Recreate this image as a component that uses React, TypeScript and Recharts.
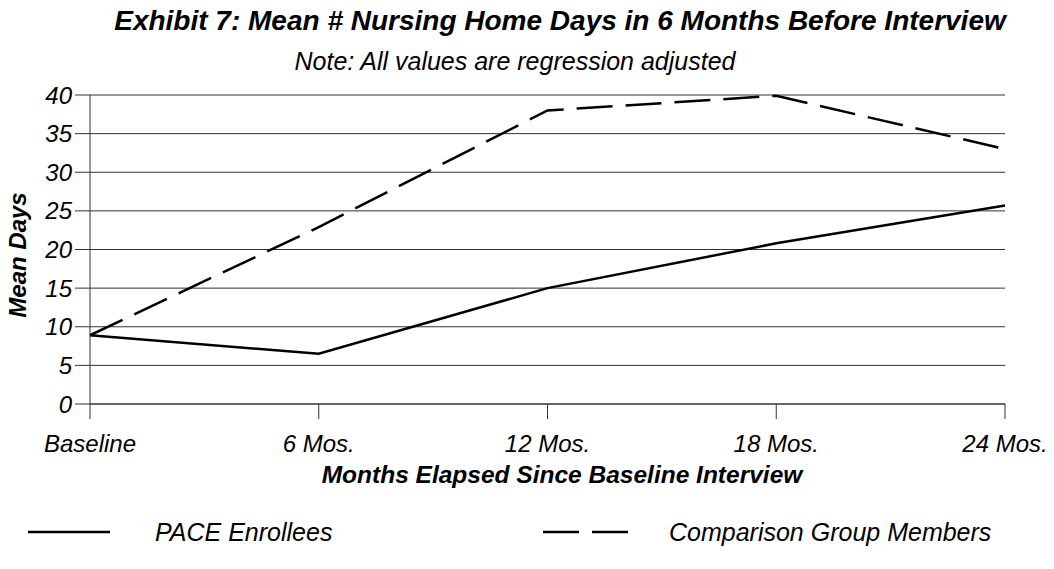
import { LineChart, Line, XAxis, YAxis, CartesianGrid } from 'recharts'

const categories = ['Baseline', '6 Mos.', '12 Mos.', '18 Mos.', '24 Mos.']
const paceEnrollees = [8.9, 6.5, 15.0, 20.8, 25.7]
const comparisonGroup = [8.9, 22.9, 38.0, 39.9, 33.0]
const yTicks = [0, 5, 10, 15, 20, 25, 30, 35, 40]

const FONT = '"Liberation Sans", Arial, sans-serif'
const DASH = '36 13'

const data = categories.map((name, i) => ({
  name,
  pace: paceEnrollees[i],
  comparison: comparisonGroup[i],
}))

const legendItems = [
  { label: 'PACE Enrollees', dash: undefined, x: 28, len: 82, textX: 155 },
  { label: 'Comparison Group Members', dash: DASH, x: 543, len: 86, textX: 669 },
]

// titles, axis names and legend drawn on top of the chart
function Overlay() {
  return (
    <svg width={1054} height={569} style={{ position: 'absolute', left: 0, top: 0, pointerEvents: 'none' }} fontFamily={FONT}>
      <text x={560} y={30} textAnchor="middle" fontSize={28} fontWeight="bold" fontStyle="italic">
        Exhibit 7: Mean # Nursing Home Days in 6 Months Before Interview
      </text>
      <text x={515} y={70} textAnchor="middle" fontSize={25} fontStyle="italic">
        Note: All values are regression adjusted
      </text>
      <text x={562} y={483} textAnchor="middle" fontSize={24.5} fontWeight="bold" fontStyle="italic">
        Months Elapsed Since Baseline Interview
      </text>
      <text
        x={0}
        y={0}
        transform="translate(26,255) rotate(-90)"
        textAnchor="middle"
        fontSize={24}
        fontWeight="bold"
        fontStyle="italic"
      >
        Mean Days
      </text>
      {legendItems.map((it) => (
        <g key={it.label}>
          <line x1={it.x} y1={532} x2={it.x + it.len} y2={532} stroke="#000" strokeWidth={2.5} strokeDasharray={it.dash} />
          <text x={it.textX} y={541} fontSize={25} fontStyle="italic">
            {it.label}
          </text>
        </g>
      ))}
    </svg>
  )
}

export default function App() {
  return (
    <div style={{ position: 'absolute', left: 0, top: 0, width: 1054, height: 569, background: '#fff' }}>
      <LineChart width={1054} height={569} data={data} margin={{ top: 95, right: 49, bottom: 135, left: 0 }}>
        <CartesianGrid vertical={false} stroke="#333" strokeWidth={1} />
        <XAxis
          dataKey="name"
          scale="point"
          padding={{ left: 0, right: 0 }}
          height={30}
          stroke="#333"
          tickSize={15}
          tickMargin={16}
          tick={{ fill: '#000', fontSize: 24, fontStyle: 'italic', fontFamily: FONT }}
          interval={0}
        />
        <YAxis
          domain={[0, 40]}
          ticks={yTicks}
          width={90}
          stroke="#333"
          tickSize={15}
          tickMargin={3}
          tick={{ fill: '#000', fontSize: 24, fontStyle: 'italic', fontFamily: FONT }}
        />
        <Line
          type="linear"
          dataKey="pace"
          name="PACE Enrollees"
          stroke="#000"
          strokeWidth={2.5}
          dot={false}
          activeDot={false}
          isAnimationActive={false}
        />
        <Line
          type="linear"
          dataKey="comparison"
          name="Comparison Group Members"
          stroke="#000"
          strokeWidth={2.5}
          strokeDasharray={DASH}
          dot={false}
          activeDot={false}
          isAnimationActive={false}
        />
      </LineChart>
      <Overlay />
    </div>
  )
}
